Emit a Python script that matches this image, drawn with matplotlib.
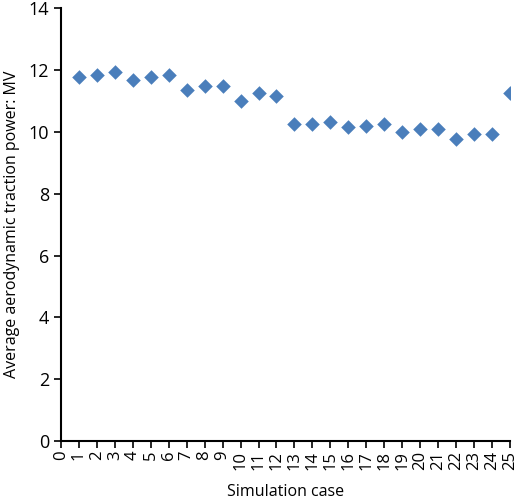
import matplotlib
matplotlib.use('Agg')
from matplotlib import pyplot as plt

cases = list(range(1, 26))
power = [11.78, 11.83, 11.94, 11.67, 11.78, 11.83, 11.34, 11.49, 11.49, 10.99,
         11.26, 11.15, 10.25, 10.25, 10.32, 10.15, 10.20, 10.25, 9.98, 10.09,
         10.09, 9.76, 9.92, 9.92, 11.26]

plt.rcParams['font.family'] = ['Open Sans', 'DejaVu Sans']

fig = plt.figure(figsize=(5.2, 5.03), dpi=100)
ax = fig.add_axes([0.117, 0.123, 0.864, 0.861])

ax.scatter(cases, power, marker='D', s=55, color='#4a7ebb', linewidths=0, zorder=3)

ax.set_xlim(0, 25)
ax.set_ylim(0, 14)
ax.set_xticks(range(0, 26))
ax.set_xticklabels([str(i) for i in range(0, 26)], rotation=90, fontsize=12)
ax.set_yticks(range(0, 15, 2))
ax.tick_params(axis='y', labelsize=13, direction='out', length=5, width=1.2)
ax.tick_params(axis='x', direction='out', length=5, width=1.2, pad=2)

for s in ['top', 'right']:
    ax.spines[s].set_visible(False)
for s in ['left', 'bottom']:
    ax.spines[s].set_linewidth(1.5)

ax.set_xlabel('Simulation case', fontsize=11.5, labelpad=10)
ax.set_ylabel('Average aerodynamic traction power: MV', fontsize=11.5, labelpad=6)

fig.savefig('out.png', dpi=100)
